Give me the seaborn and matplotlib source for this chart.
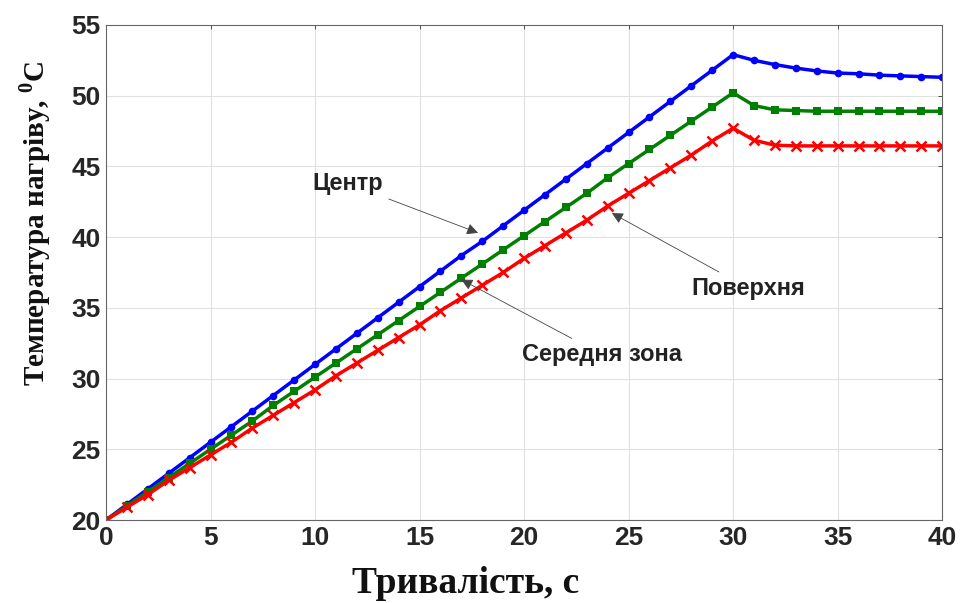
import numpy as np
import pandas as pd
import matplotlib
matplotlib.use("Agg")
import matplotlib.pyplot as plt
import seaborn as sns

# ---- data ----
time_s = list(range(0, 41))
centre = [20.0, 21.1, 22.2, 23.3, 24.4, 25.5, 26.6, 27.7, 28.8, 29.9,
          31.0, 32.1, 33.2, 34.3, 35.4, 36.5, 37.6, 38.7, 39.7, 40.8,
          41.9, 43.0, 44.1, 45.2, 46.3, 47.4, 48.5, 49.6, 50.7, 51.8,
          52.9, 52.5, 52.2, 51.95, 51.75, 51.6, 51.55, 51.45, 51.4, 51.35, 51.3]
middle = [20.0, 21.0, 22.0, 23.0, 24.0, 25.0, 26.0, 27.0, 28.1, 29.1,
          30.1, 31.1, 32.1, 33.1, 34.1, 35.1, 36.1, 37.1, 38.1, 39.1,
          40.1, 41.1, 42.1, 43.1, 44.2, 45.2, 46.2, 47.2, 48.2, 49.2,
          50.2, 49.3, 49.0, 48.95, 48.9, 48.9, 48.9, 48.9, 48.9, 48.9, 48.9]
surface = [20.0, 20.9, 21.8, 22.8, 23.7, 24.6, 25.5, 26.5, 27.4, 28.3,
           29.2, 30.2, 31.1, 32.0, 32.9, 33.8, 34.8, 35.7, 36.6, 37.5,
           38.5, 39.4, 40.3, 41.2, 42.2, 43.1, 44.0, 44.9, 45.8, 46.8,
           47.7, 46.85, 46.5, 46.45, 46.45, 46.45, 46.45, 46.45, 46.45, 46.45, 46.45]
x_ticks = [0, 5, 10, 15, 20, 25, 30, 35, 40]
y_ticks = [20, 25, 30, 35, 40, 45, 50, 55]
x_label = "Тривалість, с"
y_label = "Температура нагріву, $^{\\mathbf{0}}$C"
annotations = [
    ("Центр", (17.8, 40.3), (13.25, 43.8), "right"),
    ("Поверхня", (24.2, 41.7), (28.0, 36.4), "left"),
    ("Середня зона", (17.0, 37.0), (19.9, 31.7), "left"),
]

sns.set_style("whitegrid")
plt.rcParams["font.family"] = ["Liberation Sans", "DejaVu Sans"]
plt.rcParams["mathtext.fontset"] = "custom"
plt.rcParams["mathtext.rm"] = "Liberation Serif"
plt.rcParams["mathtext.bf"] = "Liberation Serif:bold"

fig = plt.figure(figsize=(9.6, 6.03), dpi=100)
ax = fig.add_axes([0.1104, 0.1376, 0.871, 0.821])

df = pd.DataFrame({"t": time_s, "c": centre, "m": middle, "s": surface})
sns.lineplot(data=df, x="t", y="c", ax=ax, color="#0000ff", lw=2.5,
             marker="o", markersize=5.5, markeredgewidth=0)
sns.lineplot(data=df, x="t", y="m", ax=ax, color="#008000", lw=2.5,
             marker="s", markersize=5.5, markeredgewidth=0)
sns.lineplot(data=df, x="t", y="s", ax=ax, color="#ff0000", lw=2.5,
             marker="x", markersize=6.5, markeredgewidth=1.8, markeredgecolor="#ff0000")

ax.set_xlim(0, 40)
ax.set_ylim(20, 55)
ax.set_xticks(x_ticks)
ax.set_yticks(y_ticks)
ax.set_xticklabels([str(v) for v in x_ticks], fontsize=19, fontweight="bold")
ax.set_yticklabels([str(v) for v in y_ticks], fontsize=19, fontweight="bold")
ax.tick_params(axis="both", direction="in", length=3, width=0.6, color="#333333",
               pad=4, top=True, right=True)
ax.grid(True, color="#e0e0e0", lw=0.8)
for sp in ax.spines.values():
    sp.set_visible(True)
    sp.set_color("#666666")
    sp.set_linewidth(0.8)

ax.set_xlabel(x_label, fontsize=27, fontweight="bold", family="Liberation Serif",
              color="#111111")
ax.xaxis.set_label_coords(0.43, -0.128, transform=ax.transAxes)
ax.xaxis.label.set_va("center")
ax.set_ylabel(y_label, fontsize=21, fontweight="bold", family="Liberation Serif",
              color="#111111")
ax.yaxis.set_label_coords(-0.085, 0.60, transform=ax.transAxes)
ax.yaxis.label.set_va("center")

for text, xy, xytext, ha in annotations:
    ax.annotate(text, xy=xy, xytext=xytext, ha=ha, va="center",
                fontsize=17, fontweight="bold", color="#222222",
                arrowprops=dict(arrowstyle="-|>", color="#444444", lw=0.6,
                                mutation_scale=17, shrinkA=2, shrinkB=0))

fig.savefig("out.png", dpi=100)
